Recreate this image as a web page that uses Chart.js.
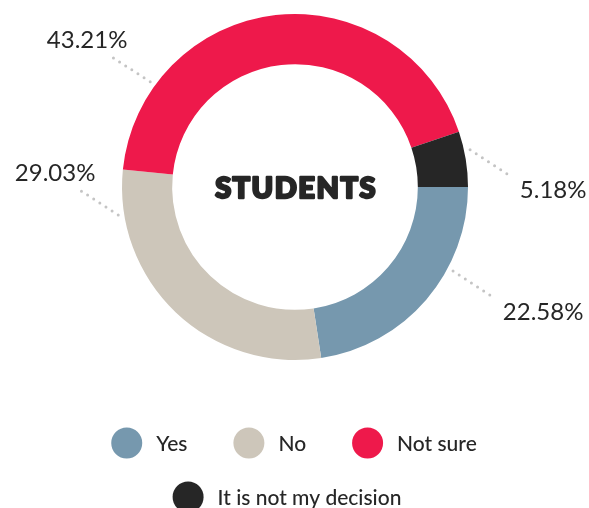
<!DOCTYPE html>
<html>
<head>
<meta charset="utf-8">
<script src="https://cdn.jsdelivr.net/npm/chart.js@4"></script>
<style>
  html, body { margin: 0; padding: 0; background: #fff; }
</style>
</head>
<body>
<canvas id="myChart" width="589" height="508"></canvas>
<script>
// survey answers and their share in percent
var answers = ['Yes', 'No', 'Not sure', 'It is not my decision'];
var shares = [22.58, 29.03, 43.21, 5.18];
var sliceColors = ['#7698ae', '#cdc6ba', '#ee194b', '#262626'];
var centerTitle = 'STUDENTS';

const textColor = '#262626';
const fontName = 'Lato, "Noto Sans", sans-serif';

// percentage labels with dotted leader lines outside the ring
const outsideLabels = {
  id: 'outsideLabels',
  afterDatasetsDraw(chart, args, opts) {
    const ctx = chart.ctx;
    const arcs = chart.getDatasetMeta(0).data;
    const values = chart.data.datasets[0].data;
    const dx = Math.cos(opts.slope) * opts.length;
    const dy = Math.sin(opts.slope) * opts.length;
    ctx.save();
    arcs.forEach(function(arc, i) {
      const a = opts.angles[i] * Math.PI / 180;
      const r = arc.outerRadius + opts.gap;
      const sx = arc.x + Math.cos(a) * r;
      const sy = arc.y + Math.sin(a) * r;
      const left = Math.cos(a) < 0;
      const ex = left ? sx - dx : sx + dx;
      const ey = left ? sy - dy : sy + dy;

      ctx.strokeStyle = '#c4c4c4';
      ctx.lineWidth = 3;
      ctx.lineCap = 'round';
      ctx.setLineDash([0, 7.3]);
      ctx.beginPath();
      ctx.moveTo(sx, sy);
      ctx.lineTo(ex, ey);
      ctx.stroke();
      ctx.setLineDash([]);

      ctx.fillStyle = textColor;
      ctx.font = '400 24px ' + fontName;
      ctx.textBaseline = 'middle';
      const txt = values[i].toFixed(2) + '%';
      if (left) {
        ctx.textAlign = 'right';
        ctx.fillText(txt, ex + 20, ey - 14);
      } else {
        ctx.textAlign = 'left';
        ctx.fillText(txt, ex + 7, ey + 13);
      }
    });
    ctx.restore();
  }
};

// title in the hole of the doughnut, stroked a little to look heavier
const centerText = {
  id: 'centerText',
  afterDatasetsDraw(chart, args, opts) {
    const arc = chart.getDatasetMeta(0).data[0];
    const ctx = chart.ctx;
    ctx.save();
    ctx.fillStyle = textColor;
    ctx.strokeStyle = textColor;
    ctx.lineWidth = 2.4;
    ctx.lineJoin = 'round';
    ctx.font = '900 29px ' + fontName;
    ctx.letterSpacing = '1.5px';
    ctx.textAlign = 'center';
    ctx.textBaseline = 'middle';
    ctx.fillText(opts.text, arc.x + 1, arc.y + 2);
    ctx.strokeText(opts.text, arc.x + 1, arc.y + 2);
    ctx.restore();
  }
};

// big round legend markers, 3 items on the first row
const roundLegend = {
  id: 'roundLegend',
  afterDraw(chart, args, opts) {
    const ctx = chart.ctx;
    const labels = chart.data.labels;
    const colors = chart.data.datasets[0].backgroundColor;
    const rows = [labels.slice(0, 3), labels.slice(3)];
    const r = opts.radius;
    ctx.save();
    ctx.font = '500 21px ' + fontName;
    ctx.textBaseline = 'middle';
    ctx.textAlign = 'left';
    let idx = 0;
    rows.forEach(function(row, ri) {
      const widths = row.map(function(t) { return 2 * r + opts.textGap + ctx.measureText(t).width; });
      const total = widths.reduce(function(s, w) { return s + w; }, 0) + opts.itemGap * (row.length - 1);
      let x = opts.centers[ri] - total / 2;
      const y = opts.rowY[ri];
      row.forEach(function(t, k) {
        ctx.fillStyle = colors[idx];
        ctx.beginPath();
        ctx.arc(x + r, y, r, 0, Math.PI * 2);
        ctx.fill();
        ctx.fillStyle = textColor;
        ctx.fillText(t, x + 2 * r + opts.textGap, y + 1);
        x += widths[k] + opts.itemGap;
        idx++;
      });
    });
    ctx.restore();
  }
};

const ctx = document.getElementById('myChart');

new Chart(ctx, {
  type: 'doughnut',
  data: {
    labels: answers,
    datasets: [{
      data: shares,
      backgroundColor: sliceColors,
      borderWidth: 0
    }]
  },
  options: {
    responsive: false,
    animation: false,
    rotation: 90,
    cutout: '71%',
    layout: {
      padding: { top: 14, bottom: 148, left: 1, right: 0 }
    },
    plugins: {
      legend: { display: false },
      tooltip: { enabled: false },
      outsideLabels: {
        angles: [28, 171, 216, 348],
        gap: 6,
        length: 51,
        slope: 33 * Math.PI / 180
      },
      centerText: { text: centerTitle },
      roundLegend: {
        radius: 15.5,
        textGap: 14,
        itemGap: 46,
        centers: [294, 287],
        rowY: [443, 497]
      }
    }
  },
  plugins: [outsideLabels, centerText, roundLegend]
});
</script>
</body>
</html>
